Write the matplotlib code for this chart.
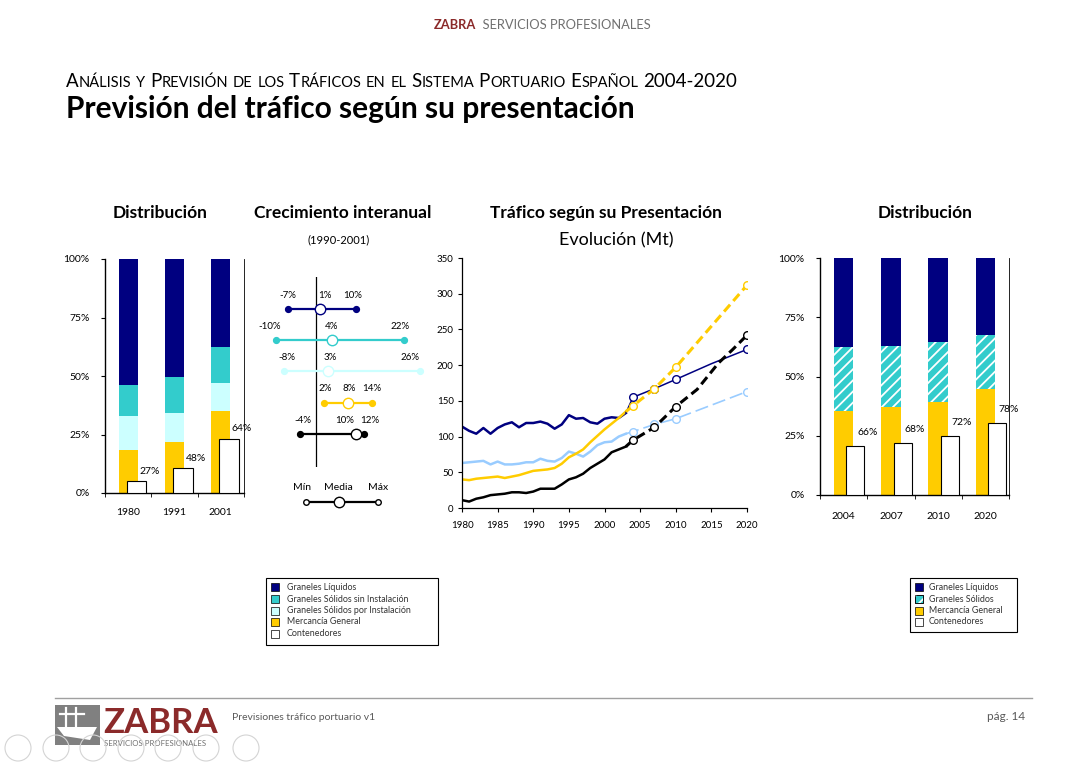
# -*- coding: utf-8 -*-
"""
Previsión del tráfico según su presentación
Lámina: distribución histórica, crecimiento interanual, evolución (Mt) y distribución prevista
"""
import matplotlib
matplotlib.use("Agg")
import matplotlib.pyplot as plt
from matplotlib.patches import Rectangle, Circle, Polygon

W, H = 1086, 768
plt.rcParams["font.family"] = ["Lato", "DejaVu Sans"]
plt.rcParams["hatch.linewidth"] = 1.3
plt.rcParams["hatch.color"] = "white"

# colores
NAVY = "#000080"
TEAL = "#33CCCC"
PALE = "#CCFFFF"
YELLOW = "#FFCC00"
LBLUE = "#99CCFF"
GREY = "#595959"
RED = "#8B2A2A"

# ---------------- datos ----------------
# Distribución 1980-2001 (%)
hist_years = ["1980", "1991", "2001"]
hist_mercancia = [18.2, 21.8, 35.1]
hist_sol_por = [14.9, 12.3, 11.8]
hist_sol_sin = [13.1, 15.5, 15.5]
hist_liquidos = [53.8, 50.4, 37.6]
hist_contenedores = [5.1, 10.8, 23.2]
hist_cont_labels = ["27%", "48%", "64%"]

# Distribución prevista 2004-2020 (%)
prev_years = ["2004", "2007", "2010", "2020"]
prev_mercancia = [35.6, 37.0, 39.4, 44.6]
prev_solidos = [26.7, 25.7, 25.0, 23.0]
prev_liquidos = [37.7, 37.3, 35.6, 32.4]
prev_contenedores = [20.6, 21.8, 24.8, 30.3]
prev_cont_labels = ["66%", "68%", "72%", "78%"]

# Crecimiento interanual 1990-2001 (%)
crec_min = [-7, -10, -8, 2, -4]
crec_media = [1, 4, 3, 8, 10]
crec_max = [10, 22, 26, 14, 12]
crec_colors = [NAVY, TEAL, PALE, YELLOW, "black"]

# Tráfico según su presentación (Mt)
hist_x = list(range(1980, 2004))
liquidos_mt = [114, 108, 104, 112, 104, 112, 117, 120, 113, 119, 119, 121,
               118, 111, 117, 130, 125, 126, 120, 118, 125, 127, 126, 133]
solidos_mt = [63, 64, 65, 66, 61, 65, 61, 61, 62, 64, 64, 69,
              66, 65, 70, 79, 76, 72, 79, 88, 92, 93, 100, 104]
mercancia_mt = [40, 39, 41, 42, 43, 44, 42, 44, 46, 49, 52, 53,
                54, 56, 62, 71, 76, 82, 92, 101, 110, 118, 126, 135]
contenedores_mt = [11, 9, 13, 15, 18, 19, 20, 22, 22, 21, 23, 27,
                   27, 27, 33, 40, 43, 48, 56, 62, 68, 78, 82, 86]

liquidos_fc_x = [2003, 2004, 2007, 2010, 2015, 2020]
liquidos_fc = [133, 155, 167, 180, 202, 222]
solidos_fc_x = [2003, 2004, 2007, 2010, 2020]
solidos_fc = [104, 107, 117, 125, 163]
mercancia_fc_x = [2003, 2004, 2007, 2010, 2020]
mercancia_fc = [135, 143, 167, 197, 312]
contenedores_fc_x = [2003, 2004, 2007, 2010, 2013, 2016, 2018, 2020]
contenedores_fc = [86, 95, 113, 142, 166, 203, 222, 242]
marker_years = [2004, 2007, 2010, 2020]

legend_izq = ["Graneles Líquidos", "Graneles Sólidos sin Instalación",
              "Graneles Sólidos por Instalación", "Mercancía General", "Contenedores"]
legend_der = ["Graneles Líquidos", "Graneles Sólidos", "Mercancía General", "Contenedores"]

# ---------------- figura ----------------
fig = plt.figure(figsize=(W / 100, H / 100), dpi=100)
fig.patch.set_facecolor("white")

bg = fig.add_axes([0, 0, 1, 1], zorder=0)
bg.set_xlim(0, W)
bg.set_ylim(H, 0)
bg.axis("off")


def px_axes(left, top, right, bottom):
    ax = fig.add_axes([left / W, 1 - bottom / H, (right - left) / W, (bottom - top) / H], zorder=2)
    ax.set_facecolor("none")
    return ax


renderer = fig.canvas.get_renderer()


def run_text(x, y, parts, **kw):
    """Escribe trozos de texto seguidos (x, y en píxeles, y = línea base)."""
    for txt, size, extra in parts:
        t = bg.text(x, y, txt, fontsize=size, va="baseline", ha="left", **kw, **extra)
        x += t.get_window_extent(renderer).width
    return x


def small_caps(x, y, s, big, small, **kw):
    sp = bg.text(0, 0, "I I", fontsize=big)
    sp2 = bg.text(0, 0, "II", fontsize=big)
    space_w = sp.get_window_extent(renderer).width - sp2.get_window_extent(renderer).width
    sp.remove()
    sp2.remove()
    runs = []
    for ch in s:
        kind = "sp" if ch == " " else ("small" if ch.islower() else "big")
        if runs and runs[-1][1] == kind:
            runs[-1][0] += ch
        else:
            runs.append([ch, kind])
    for txt, kind in runs:
        if kind == "sp":
            x += space_w * len(txt)
            continue
        t = bg.text(x, y, txt.upper(), fontsize=small if kind == "small" else big,
                    va="baseline", ha="left", **kw)
        x += t.get_window_extent(renderer).width


# cabecera
run_text(434, 29, [("ZABRA", 9.3, {"color": RED, "fontweight": "bold"}),
                   ("  SERVICIOS PROFESIONALES", 9.3, {"color": "#707070"})])
small_caps(66, 87, "Análisis y Previsión de los Tráficos en el Sistema Portuario Español 2004-2020",
           13.5, 10.5, color="black")
bg.text(66, 118, "Previsión del tráfico según su presentación", fontsize=21.5,
        fontweight="bold", va="baseline", ha="left")

# títulos de los gráficos
for x, txt in [(160, "Distribución"), (343, "Crecimiento interanual"),
               (606, "Tráfico según su Presentación"), (925, "Distribución")]:
    bg.text(x, 213, txt, fontsize=12.5, fontweight="bold", ha="center", va="center")
bg.text(339, 240, "(1990-2001)", fontsize=8, ha="center", va="center")
bg.text(616, 240, "Evolución (Mt)", fontsize=13, ha="center", va="center")


def style_bar_axes(ax, labels, pad_x):
    n = len(labels)
    ax.set_xlim(-0.5, n - 0.5)
    ax.set_ylim(0, 100)
    ax.set_xticks(range(n))
    ax.set_xticklabels(labels, fontsize=7.5)
    ax.set_xticks([i - 0.5 for i in range(n + 1)], minor=True)
    ax.tick_params(axis="x", which="major", length=0, pad=pad_x)
    ax.tick_params(axis="x", which="minor", length=3, direction="out")
    ax.set_yticks([0, 25, 50, 75, 100])
    ax.set_yticklabels(["0%", "25%", "50%", "75%", "100%"], fontsize=7.5)
    ax.tick_params(axis="y", length=3, pad=8)
    ax.spines["top"].set_visible(False)
    ax.spines["right"].set_linewidth(0.6)
    ax.spines["left"].set_linewidth(1.0)
    ax.spines["bottom"].set_linewidth(1.0)


# ---- distribución histórica ----
ax1 = px_axes(105, 259, 244, 493)
x1 = list(range(len(hist_years)))
bw = 0.41
b = [0] * len(x1)
for vals, col in [(hist_mercancia, YELLOW), (hist_sol_por, PALE),
                  (hist_sol_sin, TEAL), (hist_liquidos, NAVY)]:
    ax1.bar(x1, vals, width=bw, bottom=b, color=col, edgecolor="none", zorder=2)
    b = [p + v for p, v in zip(b, vals)]
cw, co = 0.43, 0.18
ax1.bar([i + co for i in x1], hist_contenedores, width=cw, facecolor="white",
        edgecolor="black", linewidth=0.8, zorder=3)
for i, (v, lbl) in enumerate(zip(hist_contenedores, hist_cont_labels)):
    ax1.annotate(lbl, (i + co + cw / 2, v), xytext=(2, 7), textcoords="offset points",
                 ha="center", va="center", fontsize=7.5, zorder=4)
style_bar_axes(ax1, hist_years, 11)

# ---- distribución prevista ----
ax2 = px_axes(820, 258, 1009, 495)
x2 = list(range(len(prev_years)))
ax2.bar(x2, prev_mercancia, width=bw, color=YELLOW, edgecolor="none", zorder=2)
ax2.bar(x2, prev_solidos, width=bw, bottom=prev_mercancia, color=TEAL,
        hatch="///", edgecolor="white", linewidth=0, zorder=2)
b2 = [m + s for m, s in zip(prev_mercancia, prev_solidos)]
ax2.bar(x2, prev_liquidos, width=bw, bottom=b2, color=NAVY, edgecolor="none", zorder=2)
cw2, co2 = 0.38, 0.25
ax2.bar([i + co2 for i in x2], prev_contenedores, width=cw2, facecolor="white",
        edgecolor="black", linewidth=0.8, zorder=3)
for i, (v, lbl) in enumerate(zip(prev_contenedores, prev_cont_labels)):
    ax2.annotate(lbl, (i + co2 + cw2 / 2, v), xytext=(2, 10), textcoords="offset points",
                 ha="center", va="center", fontsize=7.5, zorder=4)
style_bar_axes(ax2, prev_years, 12)

# ---- crecimiento interanual ----
ax3 = px_axes(262, 277, 425, 467)
ax3.set_xlim(-13.5, 27.25)
ax3.set_ylim(5.056, -1.024)
ax3.axis("off")
ax3.axvline(0, color="black", lw=0.9, zorder=1)
lbl_dx = [[0, 5, -3], [-6, 0, -4], [3, 2, -10], [1, 1, 0], [3, -11, 6]]
for r in range(len(crec_min)):
    col = crec_colors[r]
    ax3.plot([crec_min[r], crec_max[r]], [r, r], color=col, lw=1.6, zorder=2,
             marker="o", markersize=4.2, markerfacecolor=col, markeredgecolor=col)
    ax3.plot([crec_media[r]], [r], marker="o", markersize=7.5, markerfacecolor="white",
             markeredgecolor=col, markeredgewidth=1.0, zorder=3, linestyle="none")
    for k, v in enumerate([crec_min[r], crec_media[r], crec_max[r]]):
        ax3.annotate(f"{v}%", (v, r), xytext=(lbl_dx[r][k] * 0.72, 10),
                     textcoords="offset points", ha="center", va="center", fontsize=7)

# leyenda Mín / Media / Máx
bg.plot([306, 378], [501.7, 501.7], color="black", lw=1.6, zorder=2)
bg.plot([306, 378], [501.7, 501.7], linestyle="none", marker="o", markersize=4,
        markerfacecolor="white", markeredgecolor="black", zorder=3)
bg.plot([339], [501.7], marker="o", markersize=7.5, markerfacecolor="white",
        markeredgecolor="black", zorder=3)
for x, txt in [(302, "Mín"), (338, "Media"), (378, "Máx")]:
    bg.text(x, 488, txt, fontsize=7.5, ha="center", va="center")

# ---- evolución (Mt) ----
ax4 = px_axes(462, 258, 747, 508)
series = [
    (liquidos_mt, liquidos_fc_x, liquidos_fc, NAVY, 1.1, "-"),
    (solidos_mt, solidos_fc_x, solidos_fc, LBLUE, 1.2, (0, (8, 3))),
    (mercancia_mt, mercancia_fc_x, mercancia_fc, YELLOW, 2.2, (0, (3, 1.6))),
    (contenedores_mt, contenedores_fc_x, contenedores_fc, "black", 2.2, (0, (3, 1.6))),
]
for hist, fx, fy, col, flw, fls in series:
    ax4.plot(hist_x, hist, color=col, lw=1.8, zorder=2, solid_joinstyle="round")
    idx = [fx.index(y) for y in marker_years]
    ax4.plot(fx, fy, color=col, lw=flw, linestyle=fls, zorder=3, marker="o",
             markevery=idx, markersize=5.5, markerfacecolor="white",
             markeredgecolor=col, markeredgewidth=1.0)
ax4.set_xlim(1980, 2020)
ax4.set_ylim(0, 350)
ax4.set_xticks(range(1980, 2021, 5))
ax4.set_yticks(range(0, 351, 50))
ax4.tick_params(labelsize=7, length=3, direction="out")
ax4.tick_params(axis="x", pad=6)
ax4.tick_params(axis="y", pad=3)
for s in ["top", "right"]:
    ax4.spines[s].set_visible(False)
ax4.spines["left"].set_linewidth(0.9)
ax4.spines["bottom"].set_linewidth(0.9)


# ---- leyendas ----
def draw_legend(x0, y0, x1, y1, names, colors, hatches, sq_x, txt_x, ys):
    bg.add_patch(Rectangle((x0, y0), x1 - x0, y1 - y0, facecolor="white",
                           edgecolor="black", lw=0.8, zorder=2))
    for name, col, hat, y in zip(names, colors, hatches, ys):
        bg.add_patch(Rectangle((sq_x, y - 4), 8, 8, facecolor=col, edgecolor="black",
                               lw=0.5, zorder=3))
        if hat:
            bg.add_patch(Rectangle((sq_x, y - 4), 8, 8, facecolor="none", hatch=hat,
                                   edgecolor="white", lw=0, zorder=3))
            bg.add_patch(Rectangle((sq_x, y - 4), 8, 8, facecolor="none",
                                   edgecolor="black", lw=0.5, zorder=3))
        bg.text(txt_x, y, name, fontsize=6.4, ha="left", va="center", color="#333333", zorder=4)


draw_legend(266, 578, 438, 645, legend_izq, [NAVY, TEAL, PALE, YELLOW, "white"],
            [None] * 5, 271, 287, [587, 599, 610.5, 622, 634])
draw_legend(910, 578, 1017, 632, legend_der, [NAVY, TEAL, YELLOW, "white"],
            [None, "///", None, None], 915, 929, [587, 599, 610.5, 622])

# ---- pie de página ----
bg.plot([55, 1032], [698, 698], color="#A0A0A0", lw=1)
bg.add_patch(Rectangle((55, 705), 45, 40, facecolor="#808080", edgecolor="none", zorder=2))
for xc in [66, 76]:
    bg.plot([xc, xc], [708, 727], color="white", lw=1.6, zorder=3)
bg.plot([60, 84], [714, 714], color="white", lw=1.6, zorder=3)
bg.add_patch(Polygon([(57, 727), (97, 727), (90, 740), (64, 736)], closed=True,
                     facecolor="white", edgecolor="none", zorder=3))
bg.text(103, 733, "ZABRA", fontsize=25, fontweight="bold", color=RED,
        va="baseline", ha="left", zorder=3)
bg.text(104, 740, "SERVICIOS PROFESIONALES", fontsize=5.6, color="#707070",
        va="top", ha="left", zorder=3)
bg.text(232, 718, "Previsiones tráfico portuario v1", fontsize=7.5, color=GREY,
        va="center", ha="left")
bg.text(1025, 717, "pág. 14", fontsize=8.5, color=GREY, va="center", ha="right")

# botones de navegación del visor
for xc in [18, 56, 93, 131, 168, 206, 246]:
    bg.add_patch(Circle((xc, 748), 13, facecolor="none", edgecolor="#D4D4D4", lw=0.8, zorder=4))

fig.savefig("out.png", dpi=100)
